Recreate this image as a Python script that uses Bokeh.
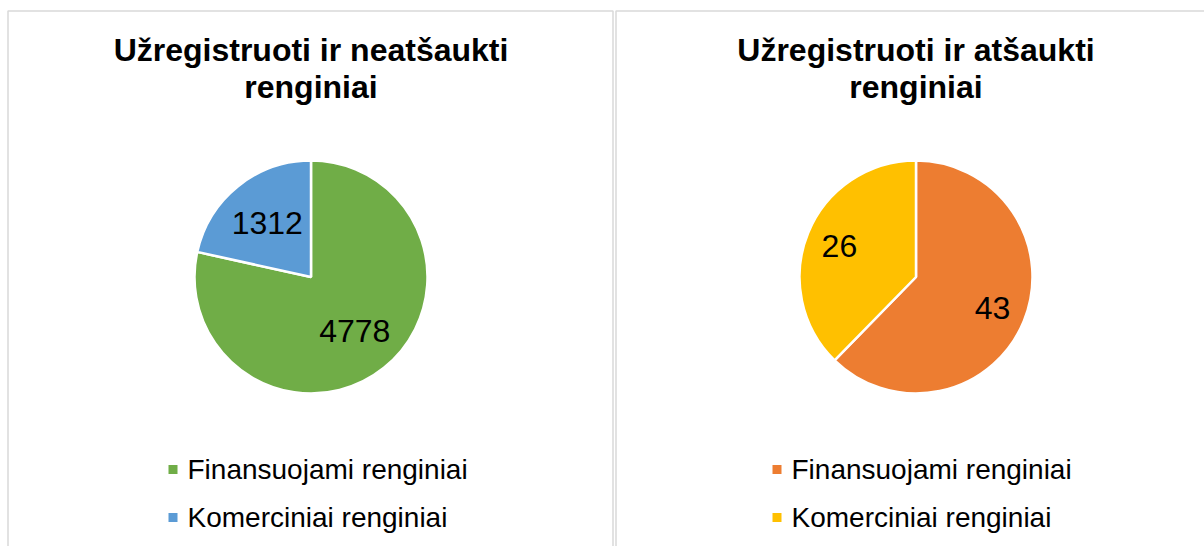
import math
from bokeh.plotting import figure
from bokeh.models import Range1d, ColumnDataSource
from bokeh.core.properties import value
from bokeh.embed import file_html
from bokeh.resources import INLINE

# ---- data ----
categories = ["Finansuojami renginiai", "Komerciniai renginiai"]
left_title = ["Užregistruoti ir neatšaukti", "renginiai"]
left_values = [4778, 1312]
left_colors = ["#70AD47", "#5B9BD5"]
right_title = ["Užregistruoti ir atšaukti", "renginiai"]
right_values = [43, 26]
right_colors = ["#ED7D31", "#FFC000"]

FONT = value("Liberation Sans")
W, H = 1204, 546
p = figure(width=W, height=H, x_range=Range1d(0, W), y_range=Range1d(-H, 0),
           output_backend="svg", toolbar_location=None, min_border=0)
p.axis.visible = False
p.grid.visible = False
p.outline_line_color = None
p.background_fill_color = "white"
p.border_fill_color = "white"

# panel borders (decoration)
border = "#d9d9d9"
p.line(x=[7.5, 7.5, 612.5, 612.5], y=[-560, -10.5, -10.5, -560], line_color=border, line_width=1.5)
p.line(x=[1300, 615.5, 615.5], y=[-10.5, -10.5, -560], line_color=border, line_width=1.5)


def pie(cx, cy, r, vals, colors, title, label_frac, leg_x):
    total = float(sum(vals))
    starts, ends, lx, ly = [], [], [], []
    cum = 0.0
    for v in vals:
        a0 = math.pi / 2 - 2 * math.pi * cum / total
        cum += v
        a1 = math.pi / 2 - 2 * math.pi * cum / total
        starts.append(a0)
        ends.append(a1)
        mid = (a0 + a1) / 2
        lx.append(cx + label_frac * r * math.cos(mid))
        ly.append(cy + label_frac * r * math.sin(mid))
    src = ColumnDataSource(dict(start=starts, end=ends, color=colors,
                                label=[str(v) for v in vals], lx=lx, ly=ly))
    p.wedge(x=cx, y=cy, radius=r, start_angle="start", end_angle="end", direction="clock",
            fill_color="color", line_color="white", line_width=2.5, source=src)
    p.text(x="lx", y="ly", text="label", source=src, text_font=FONT, text_font_size="32px",
           text_color="black", text_align="center", text_baseline="middle")
    # title
    p.text(x=[cx, cx], y=[-49, -86], text=title, text_font=FONT, text_font_size="32px",
           text_font_style="bold", text_color="black", text_align="center",
           text_baseline="middle")
    # legend
    ys = [-469, -517]
    p.scatter(x=[leg_x] * len(categories), y=ys, marker="square", size=9,
              fill_color=colors, line_color=None)
    p.text(x=[leg_x + 14.5] * len(categories), y=ys, text=categories, text_font=FONT,
           text_font_size="28px", text_color="black", text_align="left",
           text_baseline="middle")


pie(310.5, -276.5, 116.5, left_values, left_colors, left_title, 0.60, 172.5)
pie(915.5, -276.5, 116.5, right_values, right_colors, right_title, 0.71, 776.5)

open("out.html", "w").write(file_html(p, INLINE))
